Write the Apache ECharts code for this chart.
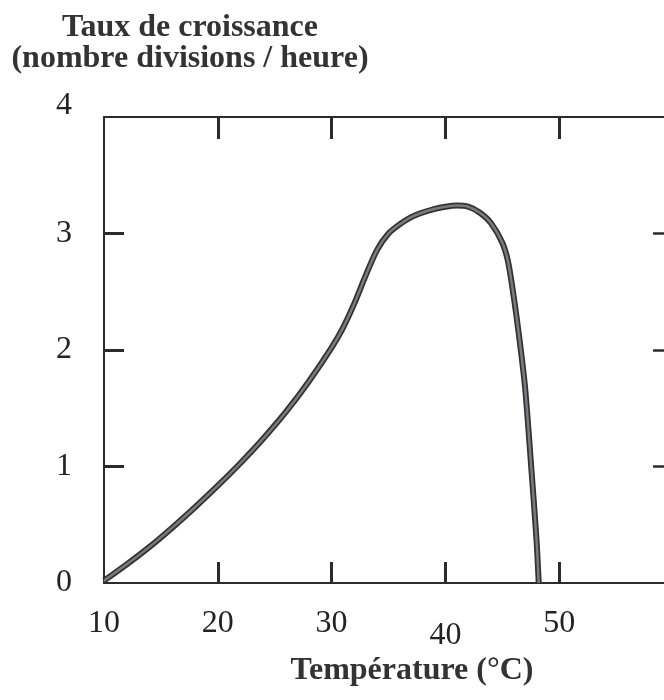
<!DOCTYPE html>
<html>
<head>
<meta charset="utf-8">
<script src="https://cdn.jsdelivr.net/npm/echarts@6/dist/echarts.min.js"></script>
<style>
  html, body { margin: 0; padding: 0; background: #fff; overflow: hidden; width: 664px; height: 700px; }
  #main { width: 680px; height: 700px; }
</style>
</head>
<body>
<div id="main"></div>
<script>
// température (°C) et taux de croissance
const temps = [10, 12, 14, 16, 18, 20, 22, 24, 26, 28, 30, 31, 32, 33, 34, 35, 36, 37, 38, 39, 40, 41, 42, 43, 44, 45, 45.5, 46, 46.5, 47, 47.5, 48, 48.2]
const rates = [0.02, 0.16, 0.31, 0.475, 0.65, 0.835, 1.03, 1.24, 1.47, 1.73, 2.02, 2.19, 2.4, 2.64, 2.86, 3.0, 3.08, 3.14, 3.18, 3.21, 3.23, 3.24, 3.23, 3.18, 3.09, 2.92, 2.76, 2.46, 2.1, 1.68, 1.05, 0.38, 0]

const xLabels = [10, 20, 30, 40, 50]
const yLabels = [0, 1, 2, 3, 4]
const xTicks = [20, 30, 40, 50]
const yTicks = [1, 2, 3]

const serif = 'Liberation Serif'
const ink = '#2b2b2b'

const points = temps.map((t, i) => [t, rates[i]])

const chart = echarts.init(document.getElementById('main'))

// lignes du cadre
const lineStyle = { color: ink, width: 2 }

chart.setOption({
  animation: false,
  backgroundColor: '#fff',
  // le cadre droit (60 °C) tombe juste hors de l'image, comme sur l'original
  grid: { left: 104, right: 7, top: 117, bottom: 117 },
  graphic: [
    {
      type: 'text',
      style: {
        text: 'Taux de croissance\n(nombre divisions / heure)',
        x: 190, y: 12, textAlign: 'center',
        font: 'bold 32px "Liberation Serif"', lineHeight: 31, fill: '#333'
      }
    },
    {
      type: 'text',
      style: {
        text: 'Température (°C)',
        x: 412, y: 655, textAlign: 'center',
        font: 'bold 32px "Liberation Serif"', fill: '#333'
      }
    }
  ],
  xAxis: [
    {
      type: 'value', position: 'bottom', min: 10, max: 60, interval: 10,
      axisLine: { onZero: false, lineStyle },
      axisTick: { inside: true, length: 21, customValues: xTicks, lineStyle: { color: ink, width: 3 } },
      splitLine: { show: false },
      axisLabel: {
        customValues: xLabels, margin: 25,
        fontFamily: serif, fontSize: 32, color: '#222',
        formatter: v => v === 40 ? '{low|40}' : '{n|' + v + '}',
        rich: {
          n: { fontFamily: serif, fontSize: 32, color: '#222' },
          low: { fontFamily: serif, fontSize: 32, color: '#222', padding: [12, 0, 0, 0] }
        }
      }
    },
    {
      type: 'value', position: 'top', min: 10, max: 60, interval: 10,
      axisLine: { onZero: false, lineStyle },
      axisTick: { inside: true, length: 22, customValues: xTicks, lineStyle: { color: ink, width: 3 } },
      axisLabel: { show: false },
      splitLine: { show: false }
    }
  ],
  yAxis: [
    {
      type: 'value', position: 'left', min: 0, max: 4, interval: 1,
      axisLine: { onZero: false, lineStyle },
      axisTick: { inside: true, length: 20, customValues: yTicks, lineStyle: { color: ink, width: 3 } },
      splitLine: { show: false },
      axisLabel: {
        customValues: yLabels, margin: 32,
        fontFamily: serif, fontSize: 32, color: '#222',
        formatter: v => v === 4 ? '{up|4}' : '{n|' + v + '}',
        rich: {
          n: { fontFamily: serif, fontSize: 32, color: '#222' },
          up: { fontFamily: serif, fontSize: 32, color: '#222', padding: [0, 0, 22, 0] }
        }
      }
    },
    {
      type: 'value', position: 'right', min: 0, max: 4, interval: 1,
      axisLine: { onZero: false, lineStyle },
      axisTick: { inside: true, length: 20, customValues: yTicks, lineStyle: { color: ink, width: 2.5 } },
      axisLabel: { show: false },
      splitLine: { show: false }
    }
  ],
  series: [
    {
      type: 'line', data: points, smooth: 0.3, showSymbol: false,
      lineStyle: { color: '#333', width: 6 }
    },
    {
      type: 'line', data: points, smooth: 0.3, showSymbol: false,
      lineStyle: { color: '#7a7a80', width: 2.5 }
    }
  ]
})
</script>
</body>
</html>
